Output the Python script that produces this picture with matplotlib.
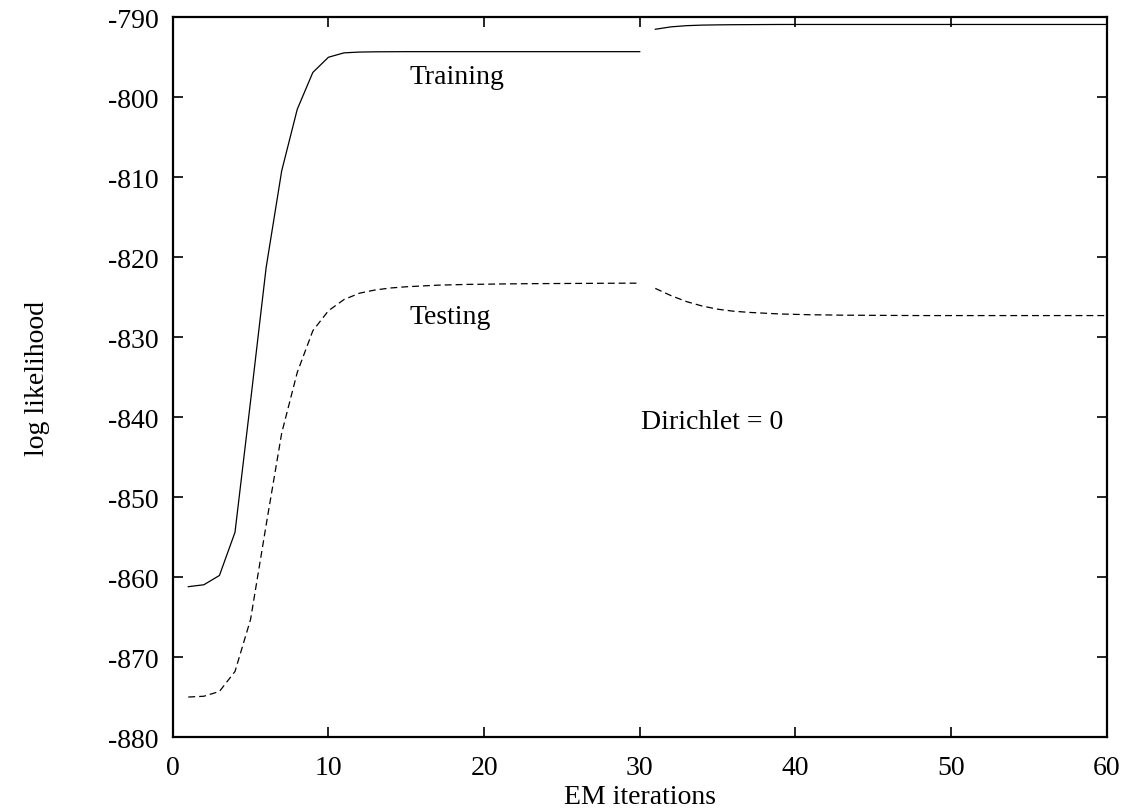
#!/usr/bin/env python3
"""Log likelihood vs EM iterations, training and testing, Dirichlet = 0."""

import matplotlib

matplotlib.use("Agg")
import matplotlib.pyplot as plt

# EM restarts after iteration 30, so each curve is drawn in two pieces.
ITER_A = list(range(1, 31))
ITER_B = list(range(31, 61))

TRAIN_A = [
    -861.2, -860.96, -859.8, -854.4, -838.0, -821.3, -809.2, -801.5, -796.9, -795.0,
    -794.45, -794.35, -794.32, -794.31, -794.3, -794.3, -794.3, -794.3, -794.3, -794.3,
    -794.3, -794.3, -794.3, -794.3, -794.3, -794.3, -794.3, -794.3, -794.3, -794.3,
]
TRAIN_B = [
    -791.5, -791.2, -791.05, -790.98, -790.95, -790.93, -790.92, -790.91, -790.9, -790.9,
    -790.9, -790.9, -790.9, -790.9, -790.9, -790.9, -790.9, -790.9, -790.9, -790.9,
    -790.9, -790.9, -790.9, -790.9, -790.9, -790.9, -790.9, -790.9, -790.9, -790.9,
]
TEST_A = [
    -875.0, -874.9, -874.3, -871.8, -865.3, -853.5, -842.0, -834.4, -829.2, -826.7,
    -825.3, -824.5, -824.1, -823.85, -823.7, -823.6, -823.5, -823.45, -823.4, -823.38,
    -823.35, -823.33, -823.31, -823.3, -823.29, -823.28, -823.27, -823.26, -823.25, -823.25,
]
TEST_B = [
    -823.9, -824.8, -825.55, -826.1, -826.5, -826.75, -826.9, -827.0, -827.1, -827.15,
    -827.2, -827.22, -827.25, -827.26, -827.27, -827.28, -827.29, -827.3, -827.3, -827.3,
    -827.3, -827.3, -827.3, -827.3, -827.3, -827.3, -827.3, -827.3, -827.3, -827.3,
]

X_TICKS = [0, 10, 20, 30, 40, 50, 60]
Y_TICKS = [-880, -870, -860, -850, -840, -830, -820, -810, -800, -790]

plt.rcParams["font.family"] = ["Liberation Serif", "DejaVu Serif"]
plt.rcParams["font.size"] = 20
plt.rcParams["axes.unicode_minus"] = False

fig = plt.figure(figsize=(11.26, 8.12), dpi=100)
ax = fig.add_axes([0.1534, 0.0911, 0.8295, 0.8864])

solid = dict(color="black", linewidth=0.9)
dashed = dict(color="black", linewidth=0.9, linestyle=(0, (5.5, 3.2)))

ax.plot(ITER_A, TRAIN_A, **solid)
ax.plot(ITER_B, TRAIN_B, **solid)
ax.plot(ITER_A, TEST_A, **dashed)
ax.plot(ITER_B, TEST_B, **dashed)

ax.set_xlim(0, 60)
ax.set_ylim(-880, -790)
ax.set_xticks(X_TICKS)
ax.set_yticks(Y_TICKS)

ax.tick_params(direction="in", length=7.2, width=1.2, top=True, right=True)
ax.tick_params(axis="x", pad=13)
ax.tick_params(axis="y", pad=10)
for sp in ax.spines.values():
    sp.set_linewidth(1.6)

ax.set_xlabel("EM iterations", labelpad=3)
ax.set_ylabel("log likelihood", labelpad=42)

ax.text(15.2, -798.2, "Training", ha="left", va="baseline")
ax.text(15.2, -828.25, "Testing", ha="left", va="baseline")
ax.text(30.1, -841.3, "Dirichlet = 0", ha="left", va="baseline")

fig.savefig("out.png", dpi=100, facecolor="white")
